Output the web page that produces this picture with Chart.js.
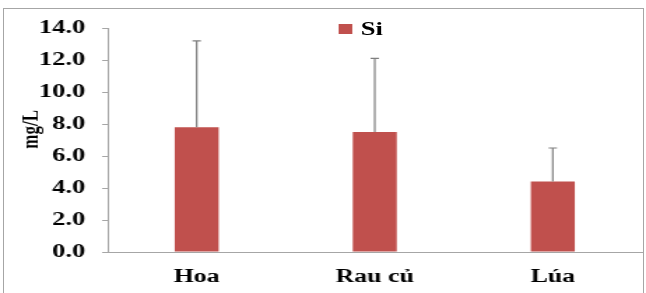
<!DOCTYPE html>
<html>
<head>
<meta charset="utf-8">
<script src="https://cdn.jsdelivr.net/npm/chart.js@4/dist/chart.umd.min.js"></script>
<style>
  html, body { margin: 0; padding: 0; background: #fff; overflow: hidden; }
  #wrap { position: relative; width: 646px; height: 293px; overflow: hidden; }
  #frame { position: absolute; left: 3px; top: 8px; width: 641px; height: 300px; border: 1px solid #a6a6a6; box-sizing: border-box; }
  /* the original picture is a stretched excel chart, so the whole drawing is widened */
  #stretch { position: absolute; left: 0; top: 0; width: 462px; height: 293px; transform: scaleX(1.3983); transform-origin: 0 0; }
  #chart { position: absolute; left: 0; top: 0; }
  #legend { position: absolute; left: 242px; top: 18px; font: bold 19px "Liberation Serif", serif; color: #000; white-space: nowrap; }
  #legend span.box { display: inline-block; width: 10px; height: 10px; background: #C0504D; margin-right: 6px; vertical-align: 1px; }
</style>
</head>
<body>
<div id="wrap">
  <div id="frame"></div>
  <div id="stretch">
    <canvas id="chart" width="462" height="293"></canvas>
    <div id="legend"><span class="box"></span>Si</div>
  </div>
</div>
<script>
const categories = ['Hoa', 'Rau củ', 'Lúa'];
const siMean = [7.8, 7.5, 4.4];
const siSd = [5.4, 4.6, 2.1];
const yTicks = [0, 2, 4, 6, 8, 10, 12, 14];

const serif = '"Liberation Serif", "Times New Roman", serif';

// upper-only error bars, like the excel original
const errorBars = {
    id: 'errorBars',
    afterDatasetsDraw(chart) {
        const ctx = chart.ctx;
        const meta = chart.getDatasetMeta(0);
        const y = chart.scales.y;
        ctx.save();
        ctx.strokeStyle = '#7f7f7f';
        ctx.lineWidth = 1.2;
        meta.data.forEach((bar, i) => {
            const top = y.getPixelForValue(siMean[i] + siSd[i]);
            ctx.beginPath();
            ctx.moveTo(bar.x, bar.y);
            ctx.lineTo(bar.x, top);
            ctx.moveTo(bar.x - 3, top);
            ctx.lineTo(bar.x + 3, top);
            ctx.stroke();
        });
        ctx.restore();
    }
};

new Chart(document.getElementById('chart').getContext('2d'), {
    type: 'bar',
    data: {
        labels: categories,
        datasets: [{
            label: 'Si',
            data: siMean,
            backgroundColor: '#C0504D',
            barPercentage: 0.247,
            categoryPercentage: 1.0
        }]
    },
    options: {
        responsive: false,
        animation: false,
        devicePixelRatio: 1,
        layout: { padding: { left: 12, right: 3, top: 28, bottom: 0 } },
        plugins: { legend: { display: false }, tooltip: { enabled: false } },
        scales: {
            x: {
                grid: { display: false, drawTicks: false },
                border: { color: '#a6a6a6', width: 1 },
                ticks: { color: '#000', padding: 14, font: { family: serif, size: 18.5, weight: 'bold' } },
                afterFit: s => { s.height = 41; }
            },
            y: {
                min: 0,
                max: 14,
                afterBuildTicks: s => { s.ticks = yTicks.map(v => ({ value: v })); },
                grid: { drawOnChartArea: false, drawTicks: true, tickLength: 4, color: '#a6a6a6' },
                border: { color: '#a6a6a6', width: 1 },
                ticks: {
                    color: '#000',
                    padding: 12,
                    font: { family: serif, size: 19, weight: 'bold' },
                    callback: v => v.toFixed(1)
                },
                title: {
                    display: true,
                    // leading spaces nudge the rotated title up a little, as in the original
                    text: '     mg/L',
                    color: '#000',
                    padding: 0,
                    font: { family: serif, size: 17, weight: 'bold' }
                },
                afterFit: s => { s.width = 65; }
            }
        }
    },
    plugins: [errorBars]
});
</script>
</body>
</html>
